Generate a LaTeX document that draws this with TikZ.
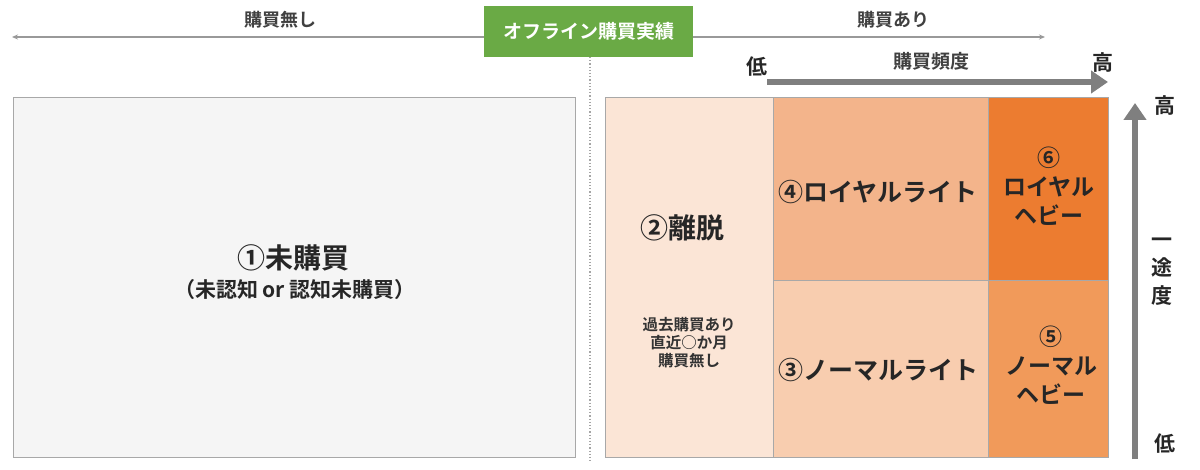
\documentclass[tikz,border=0pt]{standalone}
\usepackage{fontspec}
\setmainfont{Noto Sans CJK JP}[BoldFont={Noto Sans CJK JP Bold}]
\usetikzlibrary{arrows.meta}
\definecolor{grn}{HTML}{6AAA45}
\definecolor{c2}{HTML}{FBE5D6}
\definecolor{c3}{HTML}{F8CDAF}
\definecolor{c4}{HTML}{F3B48B}
\definecolor{c5}{HTML}{F19A5A}
\definecolor{c6}{HTML}{EC7C30}
\definecolor{bord}{HTML}{A8A8A8}
\definecolor{axis}{HTML}{7F7F7F}
\begin{document}
\begin{tikzpicture}[x=1pt,y=-1pt,
  cell/.style={draw=bord,line width=0.8pt},
  big/.style={font=\bfseries\fontsize{25}{29}\selectfont,text=black!85,align=center},
  small/.style={font=\bfseries\fontsize{15.5}{18}\selectfont,text=black!80,align=center},
  axlab/.style={font=\bfseries\fontsize{21}{24}\selectfont,text=black!85},
  toplab/.style={font=\bfseries\fontsize{18}{20}\selectfont,text=black!75},
  thinarrow/.style={draw=axis!80,line width=1.3pt,-{Stealth[length=6pt,width=5pt]}},
  thickarrow/.style={draw=axis,line width=6pt,-{Triangle[length=17pt,width=22pt]}}]
\useasboundingbox (0,0) rectangle (1200,470);
\fill[white] (0,0) rectangle (1200,470);
% top
\node[fill=grn,minimum width=209pt,minimum height=51pt,text=white,font=\bfseries\fontsize{19}{21}\selectfont,inner sep=0] (off) at (588.5,31.5) {オフライン購買実績};
\coordinate (lend) at (12,37);
\coordinate (rend) at (1045,37);
\draw[thinarrow] (off.west |- lend) -- (lend);
\draw[thinarrow] (off.east |- rend) -- (rend);
\node[toplab] (nobuy) at (280,20) {購買無し};
\node[toplab] (buy) at (893,20) {購買あり};
\coordinate (dtop) at (590,57);
\coordinate (dbot) at (590,462);
\draw[axis!70,line width=1.2pt,dotted] (dtop) -- (dbot);
% left box
\node[cell,fill=black!4,minimum width=562pt,minimum height=360pt,inner sep=0] (b1) at (294,277) {};
\node[big,font=\bfseries\fontsize{28}{32}\selectfont] (t1) at (293,258) {①未購買};
\node[font=\bfseries\fontsize{21}{24}\selectfont,text=black!85] (t1b) at (295,290) {（未認知 or 認知未購買）};
% right boxes
\node[cell,fill=c2,minimum width=168pt,minimum height=360pt,inner sep=0] (b2) at (689,277) {};
\node[cell,fill=c4,minimum width=215pt,minimum height=183pt,inner sep=0] (b4) at (880.5,188.5) {};
\node[cell,fill=c3,minimum width=215pt,minimum height=177pt,inner sep=0] (b3) at (880.5,368.5) {};
\node[cell,fill=c6,minimum width=120pt,minimum height=183pt,inner sep=0] (b6) at (1048,188.5) {};
\node[cell,fill=c5,minimum width=120pt,minimum height=177pt,inner sep=0] (b5) at (1048,368.5) {};
\node[big,font=\bfseries\fontsize{28}{32}\selectfont] (t2) at (682,228) {②離脱};
\node[small] (t2b) at (689,343) {過去購買あり\\直近○か月\\購買無し};
\node[big] (t4) at (878,192) {④ロイヤルライト};
\node[big] (t3) at (878,370) {③ノーマルライト};
\node[big,font=\bfseries\fontsize{23}{29}\selectfont] (t6) at (1049,186) {⑥\\ロイヤル\\ヘビー};
\node[big,font=\bfseries\fontsize{23}{29}\selectfont] (t5) at (1051,365) {⑤\\ノーマル\\ヘビー};
% frequency axis
\coordinate (fs) at (767,82);
\coordinate (fe) at (1108,82);
\draw[thickarrow] (fs) -- (fe);
\node[axlab] (flo) at (757,67) {低};
\node[axlab] (fhi) at (1103,63) {高};
\node[toplab,font=\bfseries\fontsize{19}{21}\selectfont] (fl) at (931,61) {購買頻度};
% loyalty axis
\coordinate (ls) at (1135,459);
\coordinate (le) at (1135,103);
\draw[thickarrow] (ls) -- (le);
\node[axlab] (lhi) at (1165,106) {高};
\node[axlab] (llo) at (1165,444) {低};
\node[axlab,align=center,font=\bfseries\fontsize{21}{28}\selectfont] (ll) at (1162,272) {一\\途\\度};
\end{tikzpicture}
\end{document}
